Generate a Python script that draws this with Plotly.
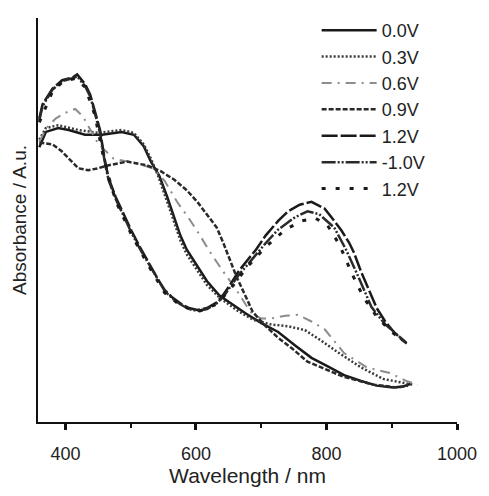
import plotly.graph_objects as go

# Wavelength (nm) / absorbance (a.u.) per curve
wl_00 = [360,370,389,405,430,456,486,505,520,531,544,556,576,586,602,617,636,662,677,701,726,752,777,802,827,853,877,902,917,929]
ab_00 = [2.87,3.03,3.07,3.05,3.00,3.00,3.03,3.00,2.88,2.72,2.57,2.35,1.95,1.80,1.63,1.47,1.32,1.20,1.13,1.03,0.94,0.80,0.67,0.58,0.49,0.43,0.38,0.36,0.37,0.40]

wl_03 = [360,370,389,420,451,486,505,520,531,541,556,576,586,602,617,636,662,687,714,741,767,792,817,853,887,917,932]
ab_03 = [2.95,3.07,3.10,3.05,3.02,3.05,3.02,2.90,2.75,2.59,2.30,1.90,1.75,1.58,1.43,1.30,1.17,1.07,1.02,1.00,0.96,0.85,0.73,0.57,0.45,0.41,0.39]

wl_06 = [360,371,385,400,415,427,436,451,474,511,534,552,571,589,606,624,644,662,677,687,701,714,737,756,777,797,827,862,898,922,940]
ab_06 = [2.93,3.07,3.17,3.23,3.27,3.19,3.08,2.90,2.75,2.70,2.65,2.52,2.30,2.13,1.95,1.75,1.55,1.38,1.22,1.12,1.08,1.08,1.11,1.12,1.05,0.97,0.72,0.57,0.51,0.43,0.39]

wl_09 = [360,380,394,405,420,435,450,465,495,525,546,567,586,602,617,632,642,651,662,677,687,707,726,747,771,792,827,872,910,925]
ab_09 = [2.92,2.90,2.83,2.75,2.65,2.63,2.65,2.68,2.72,2.68,2.62,2.53,2.42,2.30,2.17,2.03,1.87,1.72,1.52,1.30,1.15,1.00,0.88,0.77,0.63,0.57,0.47,0.39,0.36,0.38]

wl_12 = [360,365,380,395,411,418,430,438,445,453,460,466,477,489,501,514,526,541,552,564,576,589,602,617,632,642,654,666,680,692,707,726,741,759,777,797,812,823,835,842,853,865,877,890,902,917,923]
ab_12 = [3.17,3.32,3.48,3.57,3.60,3.63,3.53,3.42,3.25,3.05,2.75,2.55,2.35,2.17,2.00,1.83,1.68,1.50,1.38,1.30,1.24,1.19,1.17,1.19,1.25,1.33,1.45,1.58,1.70,1.80,1.95,2.10,2.20,2.27,2.30,2.23,2.10,2.00,1.87,1.77,1.57,1.37,1.19,1.05,0.95,0.85,0.82]

wl_m10 = [360,365,380,395,411,418,430,438,445,453,460,466,477,489,501,514,526,541,552,564,576,589,602,617,632,642,654,666,680,692,707,726,752,771,789,812,830,850,869,890,910,922]
ab_m10 = [3.15,3.30,3.47,3.56,3.59,3.61,3.51,3.40,3.23,3.02,2.73,2.53,2.33,2.15,1.98,1.81,1.67,1.49,1.37,1.29,1.23,1.18,1.16,1.18,1.24,1.31,1.42,1.54,1.65,1.75,1.87,2.01,2.14,2.20,2.17,2.03,1.80,1.50,1.20,1.02,0.90,0.83]

wl_12b = [360,380,395,415,430,445,460,477,501,526,552,576,602,632,654,680,707,737,762,783,802,820,839,857,877,898,917]
ab_12b = [3.13,3.45,3.55,3.59,3.50,3.21,2.71,2.31,1.96,1.65,1.35,1.22,1.15,1.23,1.40,1.63,1.83,2.01,2.10,2.13,2.05,1.85,1.55,1.30,1.10,0.95,0.85]

labels = ["0.0V", "0.3V", "0.6V", "0.9V", "1.2V", "-1.0V", "1.2V"]
xs = [wl_00, wl_03, wl_06, wl_09, wl_12, wl_m10, wl_12b]
ys = [ab_00, ab_03, ab_06, ab_09, ab_12, ab_m10, ab_12b]
styles = [
    dict(color="#1a1a1a", width=2.5, dash="solid"),
    dict(color="#3a3a3a", width=2.5, dash="2px,2px"),
    dict(color="#8c8c8c", width=2, dash="10px,6px,2px,6px"),
    dict(color="#2a2a2a", width=2.5, dash="5px,2px"),
    dict(color="#1a1a1a", width=2.5, dash="16px,3px"),
    dict(color="#2a2a2a", width=2.5, dash="14px,2px,2px,2px,2px,2px"),
    dict(color="#1a1a1a", width=3, dash="4px,10px"),
]

fig = go.Figure()
for lab, x, y, st in zip(labels, xs, ys, styles):
    fig.add_trace(go.Scatter(x=x, y=y, mode="lines", name=lab, line=st))

font = "Liberation Sans, Arial, sans-serif"
fig.update_layout(
    width=489, height=496,
    margin=dict(l=38, r=24, t=13, b=61),
    paper_bgcolor="white", plot_bgcolor="white",
    font=dict(family=font, color="#222", size=18),
    showlegend=True,
    legend=dict(x=0.665, y=1.015, xanchor="left", yanchor="top",
                bgcolor="rgba(0,0,0,0)", font=dict(size=18, family=font, color="#222"),
                itemwidth=55, tracegroupgap=0),
    xaxis=dict(range=[358, 1000], showgrid=False, zeroline=False,
               showline=True, linecolor="#111", linewidth=2,
               tickvals=[400, 600, 800, 1000], ticks="outside", ticklen=6, tickwidth=2.5,
               tickcolor="#111", tickfont=dict(size=18, family=font, color="#222"),
               ticklabelstandoff=8,
               minor=dict(tickvals=[500, 700, 900], ticks="outside", ticklen=4, tickwidth=1.5, tickcolor="#111"),
               title=dict(text="Wavelength / nm", font=dict(size=21, family=font, color="#222"), standoff=6)),
    yaxis=dict(range=[0, 4.22], showgrid=False, zeroline=False,
               showline=True, linecolor="#111", linewidth=2,
               showticklabels=False, ticks="",
               title=dict(text="Absorbance / A.u.", font=dict(size=19, family=font, color="#222"), standoff=4)),
)

fig.write_html("out.html")
